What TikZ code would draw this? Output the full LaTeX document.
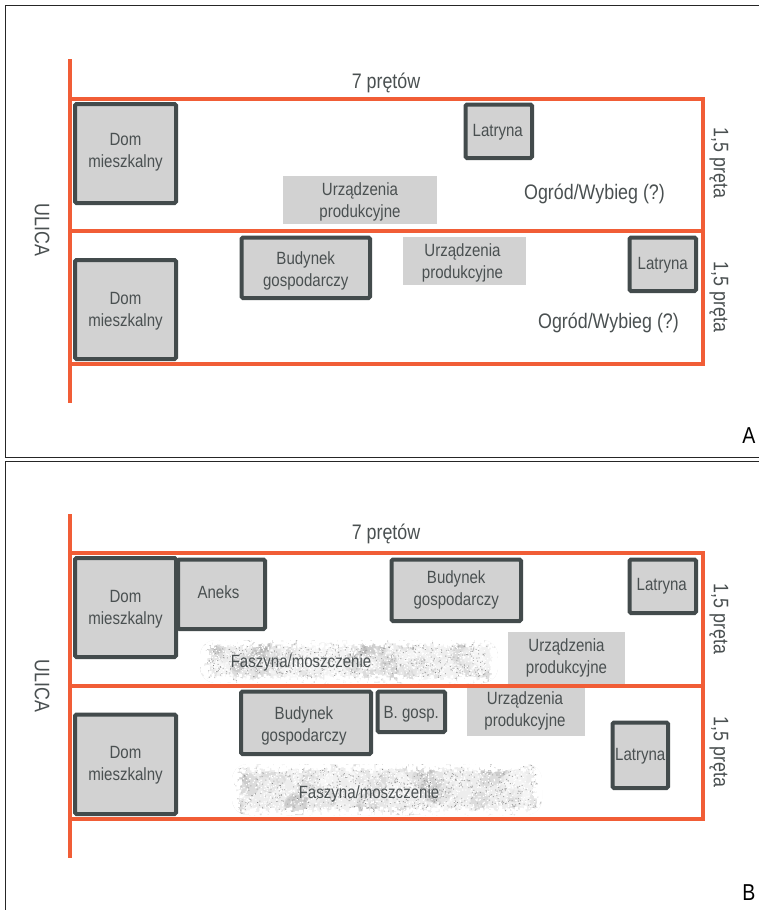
\documentclass[tikz,border=0pt]{standalone}
\usepackage{fontspec}
\setmainfont[FakeStretch=0.85]{Liberation Sans}
\definecolor{plot}{HTML}{F15D36}
\definecolor{wall}{HTML}{434B4C}
\definecolor{fillg}{HTML}{D2D2D2}
\definecolor{txt}{HTML}{4A5051}
\tikzset{
  lab/.style={text=txt,font=\fontsize{17.7}{22}\selectfont,align=center,inner sep=0pt,yshift=-1.5pt},
  biglab/.style={text=txt,font=\fontsize{21}{24}\selectfont,inner sep=0pt},
  plotline/.style={draw=plot,line width=3.6pt},
  bld/.style={draw=wall,fill=fillg,line width=4pt,rounded corners=1.5pt},
  prod/.style={fill=fillg},
  frame/.style={draw=black!85,line width=1pt},
  corner/.style={text=black,font=\fontsize{23}{24}\selectfont,inner sep=0pt}
}
% [nudge], name, x1, y1, x2, y2, text
\newcommand{\bldbox}[7][]{\path[bld] (#3,#4) rectangle (#5,#6);
  \node[lab,#1] (#2) at ({(#3+#5)/2},{(#4+#6)/2}) {#7};}
\newcommand{\prodbox}[7][]{\path[prod] (#3,#4) rectangle (#5,#6);
  \node[lab,#1] (#2) at ({(#3+#5)/2},{(#4+#6)/2}) {#7};}
% x1 y1 x2 y2 seed
\newcommand{\grain}[5]{%
  \begin{scope}
    \clip[rounded corners=16pt] (#1,#2) rectangle (#3,#4);
    \fill[black!7] (#1,#2) rectangle (#3,#4);
    \pgfmathsetseed{#5}
    % soft clouds
    \foreach \c/\o in {black/0.07,white/0.30}{
      \foreach \i in {1,...,45}{
        \pgfmathsetmacro{\px}{#1+rnd*(#3-#1)}\pgfmathsetmacro{\py}{#2+rnd*(#4-#2)}
        \pgfmathsetmacro{\rr}{4+rnd*9}
        \fill[\c,opacity=\o] (\px,\py) circle (\rr);
      }
    }
    % fine grain
    \foreach \c/\n/\s in {black!34/800/1.0,white/1300/1.2,black!46/200/0.8}{
      \path[fill=\c] \foreach \i in {1,...,\n}{
        \pgfextra{\pgfmathsetmacro{\px}{#1+rnd*(#3-#1)}\pgfmathsetmacro{\py}{#2+rnd*(#4-#2)}}
        (\px,\py) rectangle ++(\s,\s)};
    }
    % frayed edges
    \path[fill=white] \foreach \i in {1,...,420}{
      \pgfextra{\pgfmathsetmacro{\px}{#1+rnd*(#3-#1)}\pgfmathsetmacro{\py}{#2-1+rnd*rnd*8}}
      (\px,\py) rectangle ++(3,3)};
    \path[fill=white] \foreach \i in {1,...,420}{
      \pgfextra{\pgfmathsetmacro{\px}{#1+rnd*(#3-#1)}\pgfmathsetmacro{\py}{#4-2-rnd*rnd*8}}
      (\px,\py) rectangle ++(3,3)};
    \path[fill=white] \foreach \i in {1,...,120}{
      \pgfextra{\pgfmathsetmacro{\px}{#1-1+rnd*rnd*10}\pgfmathsetmacro{\py}{#2+rnd*(#4-#2)}}
      (\px,\py) rectangle ++(3,3)};
    \path[fill=white] \foreach \i in {1,...,120}{
      \pgfextra{\pgfmathsetmacro{\px}{#3-2-rnd*rnd*10}\pgfmathsetmacro{\py}{#2+rnd*(#4-#2)}}
      (\px,\py) rectangle ++(3,3)};
  \end{scope}}
\begin{document}
\begin{tikzpicture}[x=1pt,y=-1pt]
\useasboundingbox (0,0) rectangle (759,910);
\fill[white] (0,0) rectangle (759,910);
% frames
\draw[frame] (759,5.5) -- (5.5,5.5) -- (5.5,457) -- (759,457);
\draw[frame] (759,461) -- (5.5,461) -- (5.5,910);
% ---------- A ----------
\coordinate (ra1) at (70,59); \coordinate (ra2) at (70,403);
\coordinate (a1) at (70,99); \coordinate (a2) at (703,231); \coordinate (a3) at (70,364);
\prodbox{au1}{283}{176}{437}{224}{Urządzenia\\produkcyjne}
\prodbox[xshift=-2pt]{au2}{403}{237}{526}{285}{Urządzenia\\produkcyjne}
\draw[plotline] (ra1) -- (ra2);
\draw[plotline] (a1) rectangle (a2);
\draw[plotline] (a3) rectangle (a2);
\bldbox[yshift=3pt]{ad1}{75}{104}{176}{203}{Dom\\mieszkalny}
\bldbox[xshift=-1pt,yshift=1pt]{al1}{465.5}{104.5}{532}{158}{Latryna}
\bldbox[yshift=-2pt]{ab}{241.5}{237.5}{370}{298}{Budynek\\gospodarczy}
\bldbox[yshift=1pt]{al2}{629.5}{237.5}{696}{291}{Latryna}
\bldbox{ad2}{75}{260}{176}{359}{Dom\\mieszkalny}
\node[biglab] (a7) at (386,83) {7 prętów};
\node[biglab] (ao1) at (594.5,194) {Ogród/Wybieg (?)};
\node[biglab] (ao2) at (608.5,323) {Ogród/Wybieg (?)};
\node[biglab,rotate=-90] (aw1) at (719,163) {1,5 pręta};
\node[biglab,rotate=-90] (aw2) at (719,297) {1,5 pręta};
\node[biglab,rotate=-90] (au) at (42,230) {ULICA};
\node[corner] (la) at (749,436) {A};
% ---------- B ----------
\coordinate (rb1) at (70,514); \coordinate (rb2) at (70,858);
\coordinate (b1) at (70,553); \coordinate (b2) at (703,686); \coordinate (b3) at (70,819);
\grain{200}{640}{498}{683}{11}
\grain{232}{764}{542}{815}{23}
\prodbox[yshift=1.5pt]{bu1}{508}{632}{625}{684}{Urządzenia\\produkcyjne}
\prodbox[yshift=2pt,xshift=-1pt]{bu2}{467}{686}{585}{736}{Urządzenia\\produkcyjne}
\draw[plotline] (rb1) -- (rb2);
\draw[plotline] (b1) rectangle (b2);
\draw[plotline] (b3) rectangle (b2);
\bldbox{bd1}{75}{558}{176}{657}{Dom\\mieszkalny}
\bldbox[xshift=-3pt,yshift=4pt]{ban}{178}{559.5}{265}{629}{Aneks}
\bldbox[yshift=2pt]{bb1}{391.5}{559.5}{521}{621}{Budynek\\gospodarczy}
\bldbox[xshift=-1pt,yshift=2pt]{bl1}{629.5}{559.5}{696}{613}{Latryna}
\bldbox[xshift=-2pt,yshift=-1.5pt]{bb2}{241}{691.5}{371}{754}{Budynek\\gospodarczy}
\bldbox[yshift=-1pt]{bg}{377.5}{691.5}{445}{732}{B. gosp.}
\bldbox[yshift=1pt]{bl2}{612.5}{722.5}{668}{788}{Latryna}
\bldbox[yshift=1pt]{bd2}{75}{714.5}{176}{814}{Dom\\mieszkalny}
\node[lab] (bf1) at (301,661) {Faszyna/moszczenie};
\node[lab] (bf2) at (369,792) {Faszyna/moszczenie};
\node[biglab] (b7) at (386,534) {7 prętów};
\node[biglab,rotate=-90] (bw1) at (719,619) {1,5 pręta};
\node[biglab,rotate=-90] (bw2) at (719,752) {1,5 pręta};
\node[biglab,rotate=-90] (bul) at (42,686) {ULICA};
\node[corner] (lb) at (749,893) {B};
\end{tikzpicture}
\end{document}
